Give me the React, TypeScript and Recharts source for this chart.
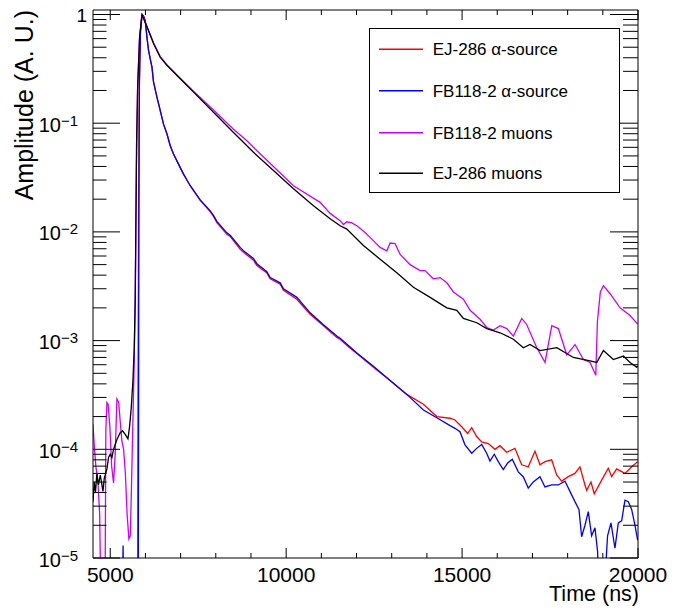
import React from 'react';
import { LineChart, Line, XAxis, YAxis } from 'recharts';

const FONT = '"Liberation Sans", Arial, Helvetica, sans-serif';
const W = 673;
const H = 614;
const PL = 93;
const PR = 638;
const PT = 10;
const PB = 558;

const X_DOMAIN: [number, number] = [4510, 20000];
const Y_DOMAIN: [number, number] = [1e-5, 1.1];
const xTicks = [5000, 6000, 7000, 8000, 9000, 10000, 11000, 12000, 13000, 14000, 15000, 16000, 17000, 18000, 19000, 20000];
const xLabelled = [5000, 10000, 15000, 20000];
const yDecades = [-5, -4, -3, -2, -1, 0];
const yMinorMult = [2, 3, 4, 5, 6, 7, 8, 9];

const seriesNames = ['EJ-286 \u03b1-source', 'FB118-2 \u03b1-source', 'FB118-2 muons', 'EJ-286 muons'];
const seriesColors = ['#ff0000', '#0000ff', '#cc00ff', '#000000'];

// [time (ns), amplitude]
const ej286Alpha: [number, number][] = [
  [4510, 3e-6], [5780, 3e-6], [5790, 3e-4], [5805, 0.01], [5825, 0.2], [5860, 0.7], [5905, 1.0],
  [5950, 0.96], [5994, 0.88], [6043, 0.62], [6088, 0.47], [6136, 0.39], [6185, 0.33], [6230, 0.24],
  [6327, 0.174], [6420, 0.131], [6514, 0.098], [6611, 0.08], [6705, 0.062], [6798, 0.052],
  [6895, 0.045], [6989, 0.039], [7083, 0.034], [7179, 0.03], [7273, 0.0266], [7557, 0.0195],
  [7841, 0.0154], [7935, 0.0139], [8031, 0.0122], [8315, 0.0095], [8409, 0.0091], [8693, 0.0069],
  [8787, 0.0065], [9071, 0.0055], [9168, 0.0049], [9452, 0.0042], [9546, 0.0037], [9830, 0.0033],
  [9924, 0.0029], [10304, 0.0024], [10682, 0.00175], [11060, 0.00137], [11441, 0.00107],
  [11534, 0.00103], [11770, 0.00088], [12009, 0.00076], [12480, 0.00057], [12955, 0.00043],
  [13429, 0.00032], [13901, 0.00026], [14282, 0.0002], [14659, 0.000193], [14798, 0.000186],
  [14989, 0.000161], [15159, 0.00014], [15273, 0.000158], [15415, 0.000131], [15557, 0.000117],
  [15745, 0.000113], [15935, 0.0001], [16077, 0.000108], [16267, 0.000094], [16503, 0.000102],
  [16693, 0.000072], [16881, 0.000069], [17072, 0.000096], [17214, 0.000072], [17356, 0.000077],
  [17546, 0.00008], [17688, 0.000058], [17830, 0.000051], [18018, 0.000056], [18208, 0.00006],
  [18350, 0.000069], [18493, 0.000047], [18541, 0.000042], [18663, 0.00005], [18757, 0.000039],
  [18967, 0.000052], [19155, 0.000067], [19252, 0.000056], [19393, 0.000066], [19630, 0.00006],
  [19820, 0.000069], [19990, 0.000077],
];

const fb118Alpha: [number, number][] = [
  [4510, 3e-6], [5340, 3e-6], [5365, 1.3e-5], [5390, 3e-6], [5795, 3e-6], [5805, 2e-4], [5815, 0.02],
  [5830, 0.25], [5860, 0.7], [5905, 1.0], [5950, 0.96], [5994, 0.88], [6043, 0.62], [6088, 0.47],
  [6136, 0.39], [6185, 0.33], [6230, 0.24], [6327, 0.174], [6420, 0.131], [6514, 0.098],
  [6611, 0.08], [6705, 0.062], [6798, 0.052], [6895, 0.045], [6989, 0.039], [7083, 0.034],
  [7179, 0.03], [7273, 0.0266], [7557, 0.0197], [7841, 0.0156], [7935, 0.0142], [8031, 0.0125],
  [8315, 0.0098], [8409, 0.0093], [8693, 0.0072], [8787, 0.0067], [9071, 0.0057], [9168, 0.0051],
  [9452, 0.0043], [9546, 0.0038], [9830, 0.0034], [9924, 0.003], [10304, 0.0025], [10682, 0.0018],
  [11060, 0.0014], [11441, 0.0011], [11534, 0.00105], [11770, 0.0009], [12009, 0.00077],
  [12480, 0.00058], [12955, 0.00043], [13429, 0.00032], [13901, 0.00023], [14282, 0.000195],
  [14659, 0.000165], [14798, 0.000156], [14940, 0.000145], [15083, 0.00011], [15273, 0.000092],
  [15415, 0.000102], [15557, 0.000111], [15699, 0.000092], [15793, 0.000078], [15915, 0.00009],
  [16029, 0.000077], [16171, 0.000065], [16296, 0.000075], [16427, 0.000081], [16597, 0.000062],
  [16739, 0.000056], [16881, 0.000044], [17023, 0.00005], [17214, 0.000056], [17356, 0.000045],
  [17546, 0.000047], [17734, 0.000047], [17924, 0.000051], [18066, 0.000041], [18208, 0.000033],
  [18322, 0.000028], [18398, 0.0000157], [18493, 0.00002], [18587, 0.0000267], [18682, 0.000016],
  [18777, 0.000019], [18852, 0.0000114], [18900, 3e-6], [19000, 3e-6], [19135, 0.000016],
  [19232, 0.000021], [19345, 0.0000123], [19440, 0.000021], [19535, 0.000022], [19630, 0.000034],
  [19725, 0.000033], [19820, 0.000028], [19914, 0.00002], [19990, 0.0000146],
];

const fb118Muons: [number, number][] = [
  [4510, 1.7e-4], [4545, 1.1e-4], [4590, 7e-5], [4650, 5e-5], [4700, 2.5e-5], [4740, 3e-6],
  [4850, 3e-6], [4875, 1.5e-4], [4906, 2.7e-4], [4940, 2.6e-4], [4990, 1.6e-4], [5040, 7e-5],
  [5094, 4.9e-5], [5140, 9e-5], [5190, 2.9e-4], [5240, 2.7e-4], [5290, 1.7e-4], [5330, 1.2e-4],
  [5380, 1.0e-4], [5430, 6e-5], [5480, 2.5e-5], [5530, 1.5e-5], [5570, 1.6e-5], [5600, 4e-5],
  [5640, 1.6e-4], [5680, 6e-4], [5710, 2.5e-3], [5745, 0.04], [5780, 0.22], [5835, 0.62],
  [5901, 1.0], [5930, 0.96], [6043, 0.78], [6230, 0.55], [6420, 0.41], [6611, 0.345], [6989, 0.26],
  [7367, 0.197], [7935, 0.132], [8503, 0.088], [8884, 0.069], [9071, 0.06], [9639, 0.04],
  [10208, 0.0266], [10966, 0.0187], [11250, 0.0148], [11534, 0.0127], [11628, 0.0117],
  [11725, 0.0124], [11867, 0.0121], [12009, 0.0114], [12196, 0.0102], [12387, 0.0089],
  [12671, 0.0072], [12861, 0.0067], [12955, 0.0079], [13097, 0.0078], [13239, 0.0062],
  [13523, 0.005], [13807, 0.0044], [13949, 0.0044], [14185, 0.0037], [14375, 0.0038],
  [14566, 0.0034], [14753, 0.0028], [15037, 0.0024], [15228, 0.0019], [15512, 0.00157],
  [15702, 0.00132], [15890, 0.00125], [16080, 0.00137], [16270, 0.00129], [16458, 0.0011],
  [16696, 0.0016], [16839, 0.0014], [17123, 0.00086], [17358, 0.00063], [17549, 0.00137],
  [17736, 0.00129], [17975, 0.00074], [18211, 0.00092], [18448, 0.00067], [18638, 0.00063],
  [18800, 0.00048], [18846, 0.0015], [18930, 0.0028], [19017, 0.0032], [19207, 0.0027],
  [19491, 0.002], [19773, 0.0017], [19991, 0.00142],
];

const ej286Muons: [number, number][] = [
  [4510, 3.3e-5], [4545, 5e-5], [4580, 4e-5], [4620, 6e-5], [4665, 4.7e-5], [4716, 5.8e-5],
  [4764, 4.7e-5], [4793, 4.1e-5], [4830, 5.4e-5], [4906, 6.6e-5], [4952, 8.4e-5], [5000, 9e-5],
  [5048, 8.4e-5], [5094, 1.0e-4], [5190, 1.23e-4], [5284, 1.42e-4], [5349, 1.48e-4],
  [5426, 1.37e-4], [5503, 1.25e-4], [5548, 1.6e-4], [5597, 2.4e-4], [5645, 4.3e-4],
  [5682, 8.6e-4], [5710, 2.3e-3], [5747, 0.06], [5776, 0.2], [5832, 0.6], [5901, 1.0],
  [5930, 0.95], [6043, 0.77], [6230, 0.54], [6420, 0.406], [6611, 0.34], [6989, 0.256],
  [7367, 0.193], [7935, 0.126], [8503, 0.082], [9071, 0.054], [9639, 0.0367], [10208, 0.0249],
  [10776, 0.0174], [11250, 0.0132], [11534, 0.0114], [11725, 0.0106], [12196, 0.0075],
  [12671, 0.0056], [13145, 0.0042], [13617, 0.0031], [14091, 0.0025], [14566, 0.002],
  [14850, 0.0019], [15037, 0.0016], [15418, 0.00146], [15702, 0.00129], [16080, 0.00118],
  [16458, 0.00103], [16742, 0.00086], [16932, 0.00092], [17216, 0.00081], [17691, 0.00086],
  [18163, 0.0007], [18638, 0.00065], [18829, 0.00063], [19017, 0.00081], [19301, 0.00067],
  [19585, 0.00072], [19773, 0.00063], [19963, 0.00057], [20000, 0.00058],
];

const seriesData = [ej286Alpha, fb118Alpha, fb118Muons, ej286Muons];

const toRows = (pts: [number, number][]) => pts.map(([t, v]) => ({ t, v }));

const yTicks = yDecades
  .flatMap((d) => [1, ...yMinorMult].map((m) => m * Math.pow(10, d)))
  .filter((v) => v <= Y_DOMAIN[1]);

const isDecade = (v: number) => Math.abs(Math.log10(v) - Math.round(Math.log10(v))) < 1e-6;

const XTickBottom = (p: any) => {
  const v = p.payload.value;
  const x = p.x;
  const major = xLabelled.includes(v);
  return (
    <g>
      <line x1={x} x2={x} y1={PB} y2={PB - (major ? 10 : 5)} stroke="#000" strokeWidth={1} />
      {major && (
        <text x={x} y={582} textAnchor="middle" fontSize={21} fontFamily={FONT} fill="#000">
          {v}
        </text>
      )}
    </g>
  );
};

const XTickTop = (p: any) => {
  const v = p.payload.value;
  const x = p.x;
  const major = xLabelled.includes(v);
  return <line x1={x} x2={x} y1={PT} y2={PT + (major ? 10 : 5)} stroke="#000" strokeWidth={1} />;
};

const YTickLeft = (p: any) => {
  const v = p.payload.value;
  const y = p.y;
  const major = isDecade(v);
  const e = Math.round(Math.log10(v));
  return (
    <g>
      <line x1={PL} x2={PL + (major ? 27 : 13.5)} y1={y} y2={y} stroke="#000" strokeWidth={1} />
      {major && e === 0 && (
        <text x={87} y={y + 8} textAnchor="end" fontSize={19} fontFamily={FONT} fill="#000">
          1
        </text>
      )}
      {major && e !== 0 && (
        <g>
          <text x={61} y={y + 8.5} textAnchor="end" fontSize={20} fontFamily={FONT} fill="#000">
            10
          </text>
          <text x={61} y={y + 2.5} textAnchor="start" fontSize={15} fontFamily={FONT} fill="#000">
            {'\u2212' + Math.abs(e)}
          </text>
        </g>
      )}
    </g>
  );
};

const YTickRight = (p: any) => {
  const v = p.payload.value;
  const y = p.y;
  const major = isDecade(v);
  return <line x1={PR} x2={PR - (major ? 28 : 15)} y1={y} y2={y} stroke="#000" strokeWidth={1} />;
};

const LEG_X = 369.5;
const LEG_Y = 28.5;
const LEG_W = 250;
const LEG_H = 164;
const legendRowY = [49.3, 90.7, 132.7, 173.3];

export default function App() {
  return (
    <div style={{ position: 'fixed', left: 0, top: 0, width: W, height: H, background: '#fff' }}>
      <LineChart width={W} height={H} margin={{ top: 5, right: 15, bottom: 36, left: 73 }}>
        <XAxis
          xAxisId="b"
          type="number"
          dataKey="t"
          domain={X_DOMAIN}
          ticks={xTicks}
          interval={0}
          allowDataOverflow
          height={20}
          orientation="bottom"
          tickLine={false}
          axisLine={{ stroke: '#000', strokeWidth: 1 }}
          tick={XTickBottom}
        />
        <XAxis
          xAxisId="t"
          type="number"
          dataKey="t"
          domain={X_DOMAIN}
          ticks={xTicks}
          interval={0}
          allowDataOverflow
          height={5}
          orientation="top"
          tickLine={false}
          axisLine={{ stroke: '#000', strokeWidth: 1 }}
          tick={XTickTop}
        />
        <YAxis
          yAxisId="l"
          type="number"
          scale="log"
          domain={Y_DOMAIN}
          ticks={yTicks}
          interval={0}
          allowDataOverflow
          width={20}
          orientation="left"
          tickLine={false}
          axisLine={{ stroke: '#000', strokeWidth: 1 }}
          tick={YTickLeft}
        />
        <YAxis
          yAxisId="r"
          type="number"
          scale="log"
          domain={Y_DOMAIN}
          ticks={yTicks}
          interval={0}
          allowDataOverflow
          width={20}
          orientation="right"
          tickLine={false}
          axisLine={{ stroke: '#000', strokeWidth: 1 }}
          tick={YTickRight}
        />
        {seriesData.map((pts, i) => (
          <Line
            key={seriesNames[i]}
            name={seriesNames[i]}
            data={toRows(pts)}
            dataKey="v"
            xAxisId="b"
            yAxisId="l"
            type="linear"
            stroke={seriesColors[i]}
            strokeWidth={1.3}
            dot={false}
            activeDot={false}
            isAnimationActive={false}
          />
        ))}
      </LineChart>
      <svg
        width={W}
        height={H}
        style={{ position: 'absolute', left: 0, top: 0, pointerEvents: 'none' }}
      >
        <rect x={LEG_X} y={LEG_Y} width={LEG_W} height={LEG_H} fill="#fff" stroke="#000" strokeWidth={1} />
        {seriesNames.map((n, i) => (
          <g key={n}>
            <line x1={379} x2={423} y1={legendRowY[i]} y2={legendRowY[i]} stroke={seriesColors[i]} strokeWidth={1.5} />
            <text x={432.7} y={legendRowY[i] + 6} fontSize={17} fontFamily={FONT} fill="#000">
              {n}
            </text>
          </g>
        ))}
        <text
          x={33}
          y={10}
          transform="rotate(-90, 33, 10)"
          textAnchor="end"
          fontSize={25}
          fontFamily={FONT}
          fill="#000"
        >
          Amplitude (A. U.)
        </text>
        <text x={639} y={601} textAnchor="end" fontSize={21.5} fontFamily={FONT} fill="#000">
          Time (ns)
        </text>
      </svg>
    </div>
  );
}
